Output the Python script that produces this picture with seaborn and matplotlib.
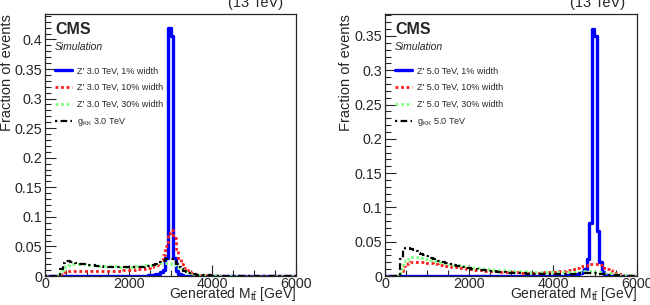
import numpy as np
import matplotlib
matplotlib.use('Agg')
import matplotlib.pyplot as plt
from matplotlib.lines import Line2D
from matplotlib.ticker import MultipleLocator, FuncFormatter
import seaborn as sns

# Binning: 100 bins of 60 GeV from 0 to 6000 GeV
bin_edges = list(range(0, 6001, 60))
bin_centers = [e + 30 for e in bin_edges[:-1]]

# 3 TeV samples (fraction of events per bin)
z3_1pct = ([0.0] * 40 +
           [0.0005, 0.001, 0.001, 0.002, 0.003, 0.004, 0.006, 0.01, 0.03, 0.42,
            0.405, 0.03, 0.008, 0.003, 0.001, 0.0005, 0.0, 0.0, 0.0, 0.0] +
           [0.0] * 40)
z3_10pct = [0, 0, 0, 0, 0, 0, 0.004, 0.007, 0.008, 0.009,
            0.009, 0.009, 0.009, 0.009, 0.009, 0.009, 0.009, 0.009, 0.009, 0.009,
            0.009, 0.009, 0.009, 0.009, 0.009, 0.009, 0.009, 0.009, 0.009, 0.009,
            0.009, 0.0095, 0.0095, 0.01, 0.01, 0.0105, 0.011, 0.011, 0.012, 0.012,
            0.013, 0.014, 0.015, 0.017, 0.019, 0.022, 0.027, 0.035, 0.05, 0.072,
            0.078, 0.064, 0.045, 0.03, 0.02, 0.014, 0.01, 0.007, 0.005, 0.004,
            0.003, 0.0025, 0.002, 0.0018, 0.0015, 0.0012, 0.001, 0.001, 0.0008, 0.0007,
            0.0006, 0.0005, 0.0005, 0.0004, 0.0004, 0.0003, 0.0003, 0.0003, 0.0002, 0.0002,
            0.0002, 0.0002, 0.0002, 0.0002, 0.0002, 0.0002, 0.0002, 0.0002, 0.0002, 0.0002,
            0.0001, 0.0001, 0.0001, 0.0001, 0.0001, 0.0001, 0.0001, 0.0001, 0.0001, 0.0001]
z3_30pct = [0, 0, 0, 0, 0, 0, 0.006, 0.013, 0.017, 0.019,
            0.020, 0.0205, 0.0205, 0.020, 0.020, 0.0195, 0.019, 0.019, 0.0185, 0.018,
            0.018, 0.0175, 0.0175, 0.017, 0.017, 0.017, 0.0165, 0.0165, 0.0165, 0.016,
            0.016, 0.016, 0.016, 0.016, 0.016, 0.0165, 0.0165, 0.017, 0.017, 0.0175,
            0.018, 0.0185, 0.019, 0.0195, 0.02, 0.021, 0.0215, 0.022, 0.022, 0.022,
            0.021, 0.019, 0.016, 0.013, 0.011, 0.009, 0.007, 0.0055, 0.0045, 0.0035,
            0.003, 0.0025, 0.002, 0.0017, 0.0014, 0.0012, 0.001, 0.0009, 0.0008, 0.0007,
            0.0006, 0.0005, 0.0005, 0.0004, 0.0004, 0.0003, 0.0003, 0.0003, 0.0002, 0.0002,
            0.0002, 0.0002, 0.0002, 0.0002, 0.0002, 0.0002, 0.0002, 0.0002, 0.0002, 0.0002,
            0.0001, 0.0001, 0.0001, 0.0001, 0.0001, 0.0001, 0.0001, 0.0001, 0.0001, 0.0001]
gkk3 = [0, 0, 0, 0, 0, 0, 0.012, 0.022, 0.025, 0.025,
        0.024, 0.023, 0.022, 0.021, 0.0205, 0.020, 0.0195, 0.019, 0.0185, 0.018,
        0.0175, 0.017, 0.0165, 0.016, 0.016, 0.0155, 0.0155, 0.015, 0.015, 0.015,
        0.0145, 0.0145, 0.0145, 0.0145, 0.0145, 0.015, 0.015, 0.015, 0.0155, 0.016,
        0.0165, 0.017, 0.018, 0.019, 0.02, 0.022, 0.024, 0.026, 0.028, 0.029,
        0.028, 0.025, 0.02, 0.015, 0.011, 0.008, 0.006, 0.0045, 0.0035, 0.0028,
        0.0022, 0.0018, 0.0015, 0.0012, 0.001, 0.0009, 0.0008, 0.0007, 0.0006, 0.0005,
        0.0005, 0.0004, 0.0004, 0.0003, 0.0003, 0.0003, 0.0002, 0.0002, 0.0002, 0.0002,
        0.0001, 0.0001, 0.0001, 0.0001, 0.0001, 0.0001, 0.0001, 0.0001, 0.0001, 0.0001,
        0.0001, 0.0001, 0.0001, 0.0001, 0.0001, 0.0001, 0.0001, 0.0001, 0.0001, 0.0001]

# 5 TeV samples
z5_1pct = ([0.0] * 70 +
           [0.0003, 0.0005, 0.0008, 0.001, 0.0015, 0.002, 0.003, 0.004, 0.006, 0.01,
            0.025, 0.078, 0.36, 0.35, 0.065, 0.02, 0.006, 0.002, 0.001, 0.0005] +
           [0.0] * 10)
z5_10pct = [0, 0, 0, 0, 0, 0, 0.008, 0.014, 0.017, 0.019,
            0.020, 0.021, 0.021, 0.021, 0.0205, 0.020, 0.0195, 0.019, 0.0185, 0.018,
            0.017, 0.0165, 0.016, 0.015, 0.0145, 0.014, 0.0135, 0.013, 0.0125, 0.012,
            0.0115, 0.011, 0.0105, 0.010, 0.0097, 0.0094, 0.009, 0.0087, 0.0084, 0.008,
            0.0077, 0.0074, 0.0071, 0.0068, 0.0066, 0.0064, 0.0062, 0.006, 0.0058, 0.0056,
            0.0055, 0.0054, 0.0053, 0.0052, 0.0051, 0.005, 0.005, 0.005, 0.005, 0.005,
            0.005, 0.005, 0.0051, 0.0052, 0.0053, 0.0055, 0.0057, 0.006, 0.0063, 0.0067,
            0.0071, 0.0076, 0.0082, 0.009, 0.0098, 0.0107, 0.0117, 0.0128, 0.014, 0.0152,
            0.0163, 0.0172, 0.0178, 0.0178, 0.0172, 0.016, 0.0143, 0.0123, 0.0102, 0.0082,
            0.0064, 0.0049, 0.0037, 0.0027, 0.002, 0.0015, 0.0011, 0.0008, 0.0006, 0.0004]
z5_30pct = [0, 0, 0, 0, 0, 0, 0.01, 0.019, 0.024, 0.027,
            0.028, 0.028, 0.0278, 0.0272, 0.0265, 0.0258, 0.025, 0.0242, 0.0234, 0.0226,
            0.0218, 0.021, 0.0202, 0.0194, 0.0187, 0.018, 0.0173, 0.0166, 0.016, 0.0154,
            0.0148, 0.0142, 0.0137, 0.0132, 0.0127, 0.0122, 0.0118, 0.0114, 0.011, 0.0106,
            0.0102, 0.0099, 0.0096, 0.0093, 0.009, 0.0087, 0.0084, 0.0082, 0.008, 0.0078,
            0.0076, 0.0074, 0.0072, 0.007, 0.0068, 0.0066, 0.0064, 0.0063, 0.0062, 0.0061,
            0.006, 0.0059, 0.0058, 0.0057, 0.0056, 0.0056, 0.0056, 0.0056, 0.0056, 0.0056,
            0.0057, 0.0058, 0.0059, 0.006, 0.0061, 0.0062, 0.0063, 0.0064, 0.0065, 0.0066,
            0.0066, 0.0066, 0.0065, 0.0063, 0.006, 0.0056, 0.0052, 0.0047, 0.0042, 0.0037,
            0.0032, 0.0028, 0.0024, 0.002, 0.0017, 0.0014, 0.0012, 0.001, 0.0008, 0.0006]
gkk5 = [0, 0, 0, 0, 0, 0, 0.025, 0.038, 0.041, 0.041,
        0.0395, 0.038, 0.036, 0.034, 0.032, 0.0305, 0.029, 0.0275, 0.026, 0.0248,
        0.0235, 0.0223, 0.0211, 0.02, 0.019, 0.018, 0.017, 0.0161, 0.0152, 0.0144,
        0.0136, 0.0129, 0.0122, 0.0115, 0.0109, 0.0103, 0.0097, 0.0092, 0.0087, 0.0082,
        0.0078, 0.0074, 0.007, 0.0066, 0.0063, 0.006, 0.0057, 0.0054, 0.0051, 0.0049,
        0.0047, 0.0045, 0.0043, 0.0041, 0.0039, 0.0038, 0.0036, 0.0035, 0.0034, 0.0033,
        0.0032, 0.0031, 0.003, 0.003, 0.0029, 0.0029, 0.0029, 0.0029, 0.003, 0.003,
        0.0031, 0.0032, 0.0033, 0.0034, 0.0035, 0.0036, 0.0037, 0.0038, 0.0039, 0.004,
        0.0041, 0.0042, 0.0042, 0.0041, 0.0039, 0.0036, 0.0032, 0.0028, 0.0024, 0.002,
        0.0017, 0.0014, 0.0011, 0.0009, 0.0007, 0.0006, 0.0005, 0.0004, 0.0003, 0.0002]

labels_3 = ["Z' 3.0 TeV, 1% width", "Z' 3.0 TeV, 10% width",
            "Z' 3.0 TeV, 30% width", r"g$_{\rm KK}$ 3.0 TeV"]
labels_5 = ["Z' 5.0 TeV, 1% width", "Z' 5.0 TeV, 10% width",
            "Z' 5.0 TeV, 30% width", r"g$_{\rm KK}$ 5.0 TeV"]

# styles for the four samples
colors = ['#0000ff', '#ff1a1a', '#80ff80', '#000000']
styles = ['-', (0, (1, 1)), (0, (1, 1)), (0, (1, 1.5, 3, 1.5))]
widths = [2.4, 2.0, 2.0, 1.6]

sns.set_style('ticks')
plt.rcParams['font.family'] = ['Liberation Sans', 'DejaVu Sans']
plt.rcParams['mathtext.fontset'] = 'custom'
plt.rcParams['mathtext.rm'] = 'Liberation Sans'
plt.rcParams['mathtext.it'] = 'Liberation Sans:italic'
plt.rcParams['mathtext.bf'] = 'Liberation Sans:bold'

fig = plt.figure(figsize=(6.5, 3.05), dpi=100)
ax1 = fig.add_axes([45 / 650, 29 / 305, 251 / 650, 262 / 305])
ax2 = fig.add_axes([385 / 650, 29 / 305, 252 / 650, 262 / 305])


def draw_panel(ax, series, labels, ymax, ymajor):
    for vals, c, ls, lw in zip(series, colors, styles, widths):
        sns.histplot(x=bin_centers, weights=vals, bins=bin_edges, element='step',
                     fill=False, color=c, linestyle=ls, linewidth=lw, ax=ax)
    ax.set_xlim(0, 6000)
    ax.set_ylim(0, ymax)
    ax.xaxis.set_major_locator(MultipleLocator(2000))
    ax.xaxis.set_minor_locator(MultipleLocator(500))
    ax.yaxis.set_major_locator(MultipleLocator(ymajor))
    ax.yaxis.set_minor_locator(MultipleLocator(0.01))
    ax.yaxis.set_major_formatter(FuncFormatter(lambda v, p: '%g' % round(v, 3)))
    ax.tick_params(which='both', direction='in', labelsize=10.3, pad=2)
    ax.tick_params(axis='x', pad=0.5)
    ax.tick_params(which='major', length=8, width=0.8)
    ax.tick_params(which='minor', length=4, width=0.8)
    for sp in ax.spines.values():
        sp.set_linewidth(0.9)
    ax.set_ylabel('Fraction of events', fontsize=10.5, ha='right', y=1.0)
    ax.yaxis.set_label_coords(-0.125, 1.0)
    ax.set_xlabel(r'Generated M$_{\rm t\bar{t}}$ [GeV]', fontsize=10, ha='right', va='bottom')
    ax.xaxis.set_label_coords(1.0, -0.104)
    ax.text(0.04, 0.922, 'CMS', transform=ax.transAxes, fontsize=11.5,
            fontweight='bold', va='baseline')
    ax.text(0.04, 0.862, 'Simulation', transform=ax.transAxes, fontsize=7.5,
            style='italic', va='baseline')
    handles = [Line2D([], [], color=c, linestyle=ls, linewidth=lw)
               for c, ls, lw in zip(colors, styles, widths)]
    ax.legend(handles, labels, loc='upper left', bbox_to_anchor=(0.04, 0.8),
              frameon=False, fontsize=6.5, handlelength=1.9, handletextpad=0.5,
              labelspacing=0.85, borderpad=0, borderaxespad=0)


draw_panel(ax1, [z3_1pct, z3_10pct, z3_30pct, gkk3], labels_3, 0.443, 0.05)
draw_panel(ax2, [z5_1pct, z5_10pct, z5_30pct, gkk5], labels_5, 0.382, 0.05)

# energy label cut by the top of the figure
fig.text(283 / 650, 1 - 7 / 305, '(13 TeV)', fontsize=10.5, ha='right', va='baseline')
fig.text(625 / 650, 1 - 7 / 305, '(13 TeV)', fontsize=10.5, ha='right', va='baseline')

fig.savefig('out.png', dpi=100)
